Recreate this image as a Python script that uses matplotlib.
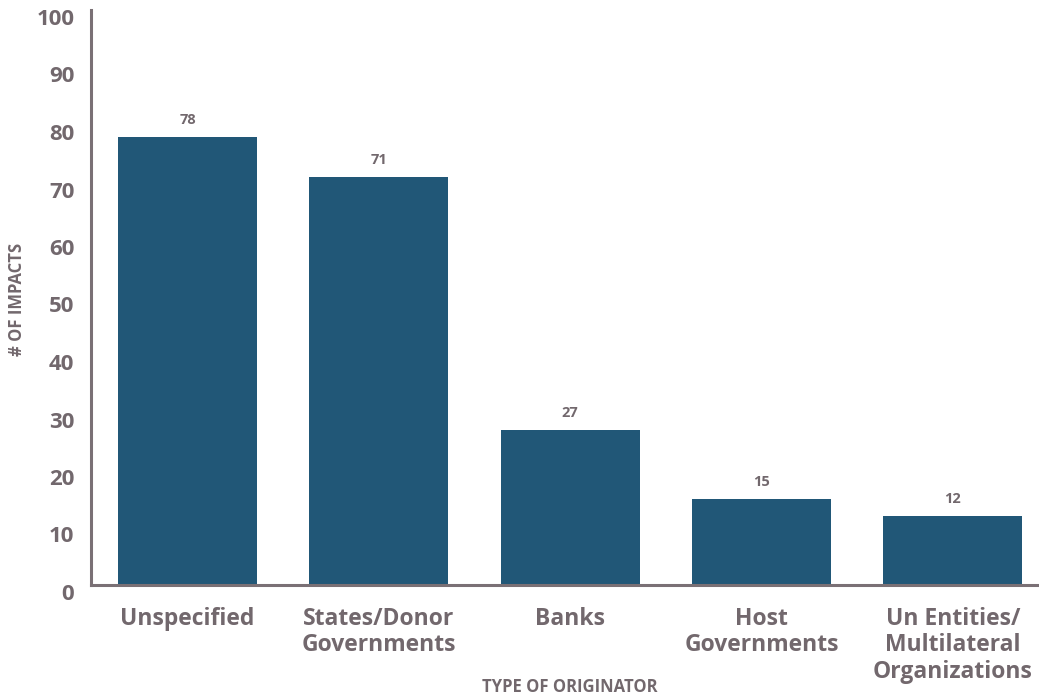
import numpy as np
import matplotlib.pyplot as plt
import matplotlib.transforms as mtransforms

# data
categories = ['Unspecified', 'States/Donor\nGovernments', 'Banks',
              'Host\nGovernments', 'Un Entities/\nMultilateral\nOrganizations']
impacts = [78, 71, 27, 15, 12]
yticks = [0, 10, 20, 30, 40, 50, 60, 70, 80, 90, 100]

bar_color = '#215777'
text_color = '#72686d'
axis_color = '#7a7075'

plt.rcParams['font.family'] = ['Open Sans', 'DejaVu Sans']

fig = plt.figure(figsize=(10.39, 6.98), dpi=100)
ax = fig.add_axes([91/1039, 113/698, 1 - 91/1039, 575/698])

x = np.arange(len(categories))
bars = ax.bar(x, impacts, width=0.726, color=bar_color, zorder=2)

for xi, v in zip(x, impacts):
    ax.annotate(str(v), (xi, v), xytext=(0, 7), textcoords='offset points',
                ha='center', va='bottom', fontsize=10.5, fontweight='bold',
                color=text_color)

ax.set_xlim(-0.504, 4.45)
ax.set_ylim(0, 99.9)
ax.set_yticks(yticks)
ax.set_xticks(x)
ax.set_xticklabels(categories, fontsize=16.5, fontweight='bold',
                   color=text_color, linespacing=1.12)
ax.tick_params(axis='both', length=0, colors=text_color)
ax.tick_params(axis='x', pad=16)
ax.tick_params(axis='y', pad=12, labelsize=16)
for lab in ax.get_yticklabels():
    lab.set_fontweight('bold')
    lab.set_transform(lab.get_transform() +
                      mtransforms.ScaledTranslation(0, -7/100, fig.dpi_scale_trans))

for side in ['top', 'right']:
    ax.spines[side].set_visible(False)
for side in ['left', 'bottom']:
    ax.spines[side].set_color(axis_color)
    ax.spines[side].set_linewidth(2.2)

fig.text(570/1039, 1 - 687/698, 'TYPE OF ORIGINATOR', ha='center', va='center',
         fontsize=12, fontweight='bold', color=text_color)
fig.text(17/1039, 1 - 299/698, '# OF IMPACTS', ha='center', va='center',
         rotation=90, fontsize=12, fontweight='bold', color=text_color)

fig.savefig('out.png', dpi=100)
